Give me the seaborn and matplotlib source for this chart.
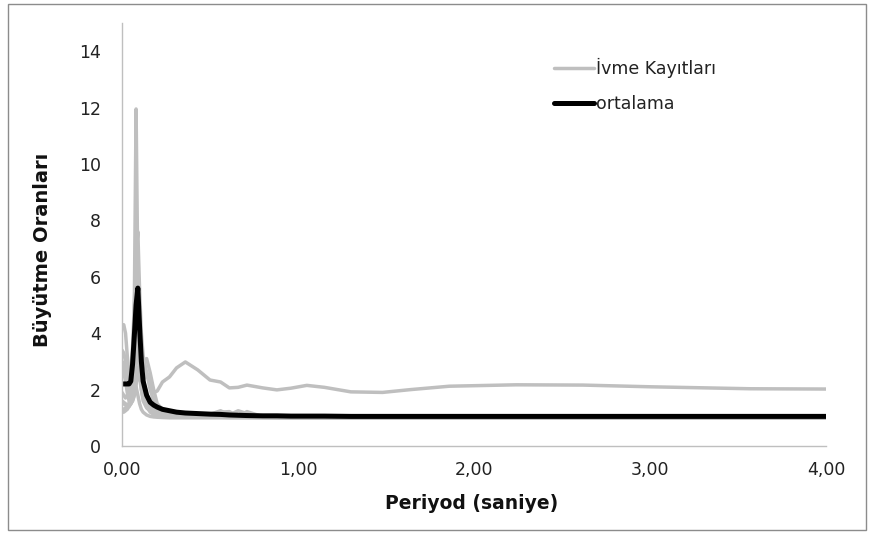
import matplotlib
matplotlib.use("Agg")
import matplotlib.pyplot as plt
import seaborn as sns
import pandas as pd
from matplotlib.patches import Rectangle

# Period grid (s) shared by all records
periods = [0.00, 0.01, 0.02, 0.03, 0.04, 0.05, 0.06, 0.07, 0.08, 0.09,
           0.10, 0.11, 0.12, 0.14, 0.16, 0.18, 0.20, 0.23, 0.27, 0.31,
           0.36, 0.43, 0.50, 0.56, 0.61, 0.66, 0.71, 0.80, 0.88, 0.96,
           1.05, 1.15, 1.30, 1.48, 1.64, 1.86, 2.24, 2.62, 3.00, 3.57, 4.00]

# Amplification ratios of the individual acceleration records
rec_1 = [1.30, 1.30, 1.35, 1.40, 1.50, 1.80, 2.60, 5.00, 11.95, 6.00,
         3.00, 2.00, 1.60, 1.35, 1.25, 1.20, 1.15, 1.10, 1.07, 1.05,
         1.04, 1.03, 1.02, 1.02, 1.01, 1.01, 1.01, 1.00, 1.00, 1.00,
         1.00, 1.00, 1.00, 1.00, 1.00, 1.00, 1.00, 1.00, 1.00, 1.00, 1.00]
rec_2 = [1.90, 1.80, 1.70, 1.80, 2.00, 2.50, 3.50, 5.00, 6.80, 7.60,
         5.50, 4.00, 3.20, 2.60, 2.00, 1.60, 1.30, 1.20, 1.15, 1.10,
         1.08, 1.06, 1.05, 1.04, 1.03, 1.03, 1.02, 1.02, 1.01, 1.01,
         1.01, 1.00, 1.00, 1.00, 1.00, 1.00, 1.00, 1.00, 1.00, 1.00, 1.00]
rec_3 = [4.30, 4.30, 4.00, 3.20, 2.60, 2.20, 2.60, 3.50, 4.80, 5.20,
         3.80, 2.60, 2.00, 1.60, 1.40, 1.30, 1.22, 1.15, 1.10, 1.08,
         1.06, 1.05, 1.04, 1.04, 1.03, 1.03, 1.02, 1.02, 1.01, 1.01,
         1.01, 1.01, 1.00, 1.00, 1.00, 1.00, 1.00, 1.00, 1.00, 1.00, 1.00]
rec_4 = [3.40, 3.30, 3.00, 2.40, 2.00, 2.00, 2.30, 3.00, 4.00, 4.50,
         3.50, 2.80, 2.40, 1.80, 1.50, 1.30, 1.20, 1.15, 1.12, 1.10,
         1.08, 1.06, 1.05, 1.12, 1.05, 1.04, 1.03, 1.02, 1.02, 1.01,
         1.01, 1.01, 1.00, 1.00, 1.00, 1.00, 1.00, 1.00, 1.00, 1.00, 1.00]
rec_5 = [3.00, 2.90, 2.60, 2.20, 1.80, 1.60, 1.70, 2.20, 3.20, 4.00,
         3.30, 2.80, 3.00, 3.10, 2.60, 2.00, 1.50, 1.30, 1.20, 1.15,
         1.12, 1.10, 1.08, 1.07, 1.06, 1.05, 1.04, 1.03, 1.02, 1.02,
         1.01, 1.01, 1.01, 1.00, 1.00, 1.00, 1.00, 1.00, 1.00, 1.00, 1.00]
rec_6 = [2.70, 2.60, 2.30, 1.90, 1.60, 1.50, 1.60, 1.80, 2.20, 2.80,
         2.40, 2.00, 1.70, 1.50, 1.40, 1.30, 1.25, 1.20, 1.15, 1.12,
         1.10, 1.08, 1.12, 1.25, 1.10, 1.25, 1.15, 1.05, 1.03, 1.02,
         1.02, 1.01, 1.01, 1.00, 1.00, 1.00, 1.00, 1.00, 1.00, 1.00, 1.00]
rec_7 = [1.50, 1.50, 1.45, 1.40, 1.40, 1.50, 1.60, 1.80, 2.20, 2.60,
         2.40, 2.20, 2.30, 2.60, 2.40, 1.90, 1.95, 2.27, 2.45, 2.77,
         2.98, 2.70, 2.34, 2.27, 2.06, 2.08, 2.16, 2.06, 1.99, 2.05,
         2.15, 2.08, 1.92, 1.90, 2.00, 2.12, 2.17, 2.16, 2.10, 2.03, 2.02]
rec_8 = [1.20, 1.20, 1.25, 1.30, 1.40, 1.50, 1.70, 2.00, 2.10, 1.80,
         1.50, 1.30, 1.20, 1.10, 1.05, 1.03, 1.02, 1.01, 1.00, 1.00,
         1.00, 1.00, 1.00, 1.00, 1.00, 1.00, 1.00, 1.00, 1.00, 1.00,
         1.00, 1.00, 1.00, 1.00, 1.00, 1.00, 1.00, 1.00, 1.00, 1.00, 1.00]
rec_9 = [1.60, 1.55, 1.50, 1.45, 1.50, 1.60, 1.90, 2.40, 3.00, 3.40,
         2.80, 2.20, 1.80, 1.40, 1.20, 1.12, 1.08, 1.05, 1.03, 1.02,
         1.02, 1.02, 1.05, 1.20, 1.22, 1.05, 1.22, 1.04, 1.02, 1.01,
         1.01, 1.01, 1.00, 1.00, 1.00, 1.00, 1.00, 1.00, 1.00, 1.00, 1.00]
records = [rec_1, rec_2, rec_3, rec_4, rec_5, rec_6, rec_7, rec_8, rec_9]

# Mean amplification curve
mean_ratio = [2.20, 2.20, 2.20, 2.20, 2.20, 2.30, 2.90, 3.90, 5.00, 5.60,
              4.20, 3.00, 2.30, 1.80, 1.55, 1.45, 1.38, 1.30, 1.25, 1.20,
              1.17, 1.15, 1.13, 1.12, 1.10, 1.09, 1.08, 1.07, 1.07, 1.06,
              1.06, 1.06, 1.05, 1.05, 1.05, 1.05, 1.05, 1.05, 1.05, 1.05, 1.05]

x_ticks = [0, 1, 2, 3, 4]
x_tick_labels = ["0,00", "1,00", "2,00", "3,00", "4,00"]
y_ticks = [0, 2, 4, 6, 8, 10, 12, 14]

sns.set_theme(style="white")
plt.rcParams["font.family"] = ["DejaVu Sans"]

fig = plt.figure(figsize=(8.73, 5.34), dpi=100)
ax = fig.add_axes([122 / 873, 1 - 446 / 534, 704 / 873, 423 / 534])

gray = "#bfbfbf"
for i, rec in enumerate(records):
    df = pd.DataFrame({"periyod": periods, "oran": rec})
    sns.lineplot(data=df, x="periyod", y="oran", ax=ax, color=gray, lw=2.5,
                 estimator=None, sort=False,
                 label="İvme Kayıtları" if i == 0 else "_nolegend_")

df_mean = pd.DataFrame({"periyod": periods, "oran": mean_ratio})
sns.lineplot(data=df_mean, x="periyod", y="oran", ax=ax, color="black", lw=3.6,
             estimator=None, sort=False, label="ortalama")

ax.set_xlim(0, 4)
ax.set_ylim(0, 15)
ax.set_xticks(x_ticks)
ax.set_xticklabels(x_tick_labels)
ax.set_yticks(y_ticks)
ax.tick_params(axis="both", length=0, labelsize=12.5, colors="#222222")
ax.tick_params(axis="y", pad=15)
ax.tick_params(axis="x", pad=11)

for side in ["top", "right"]:
    ax.spines[side].set_visible(False)
for side in ["left", "bottom"]:
    ax.spines[side].set_color("#bfbfbf")
    ax.spines[side].set_linewidth(1.0)

ax.set_xlabel("Periyod (saniye)", fontsize=13.5, fontweight="bold", color="#111111")
ax.set_ylabel("Büyütme Oranları", fontsize=14, fontweight="bold", color="#111111")
ax.xaxis.label.set_verticalalignment("center")
ax.yaxis.label.set_verticalalignment("center")
ax.xaxis.set_label_coords(0.497, -0.1348)
ax.yaxis.set_label_coords(-0.1136, 0.463)

leg = ax.legend(loc="upper left", bbox_to_anchor=(0.601, 0.937), frameon=False,
                fontsize=12.5, handlelength=2.3, handletextpad=0.15,
                labelspacing=0.95, borderpad=0)
for t in leg.get_texts():
    t.set_color("#222222")

fig.patches.append(Rectangle((8 / 873, 4 / 534), 858 / 873, 526 / 534,
                             transform=fig.transFigure, fill=False,
                             edgecolor="#8c8c8c", lw=1.0))

fig.savefig("out.png", dpi=100)
